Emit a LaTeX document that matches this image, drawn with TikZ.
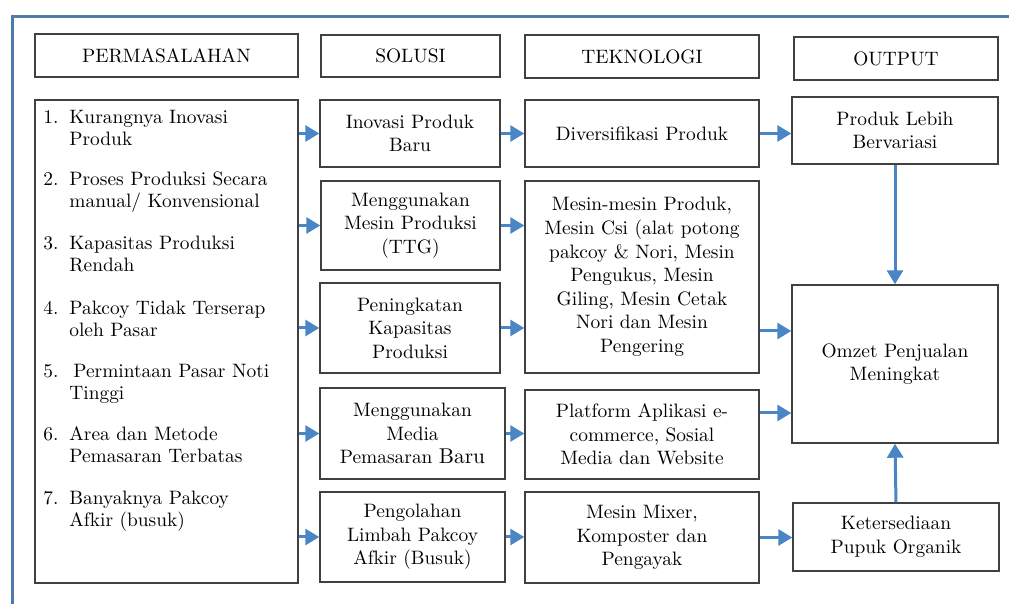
\documentclass[tikz,border=0pt]{standalone}
\usetikzlibrary{arrows.meta}
\definecolor{panah}{RGB}{74,134,197}
\definecolor{bingkai}{RGB}{79,123,168}

\begin{document}
\begin{tikzpicture}[x=0.5pt,y=-0.5pt,
  kotak/.style={draw=black!75, line width=0.7pt, align=center, inner sep=0pt,
    font=\fontsize{9.7}{11.8}\selectfont},
  butir/.style={anchor=base west, inner sep=0pt, align=left,
    font=\fontsize{9.7}{11.2}\selectfont},
  panahbiru/.style={draw=panah, line width=1.5pt,
    -{Triangle[length=7pt,width=8pt]}}]
\useasboundingbox (0,0) rectangle (1009,604);
\draw [bingkai, line width=1.5pt] (12,604) -- (12,17) -- (1009,17);

% judul kolom
\node [kotak, minimum width=131.5pt, minimum height=21.5pt] (hperm) at (166.5,55.5) {PERMASALAHAN};
\node [kotak, minimum width=89.5pt, minimum height=21pt] (hsol) at (410.5,56) {SOLUSI};
\node [kotak, minimum width=117pt, minimum height=21.5pt] (htek) at (642,56.5) {TEKNOLOGI};
\node [kotak, minimum width=102pt, minimum height=21.5pt] (hout) at (896,58.5) {OUTPUT};

% permasalahan
\node [kotak, minimum width=131.5pt, minimum height=241.5pt] (perm) at (166.5,341.5) {};
\node [butir] (p1) at (43,146) {\makebox[13pt][l]{1.}Kurangnya Inovasi\\\hspace*{13pt}Produk};
\node [butir] (p2) at (43,208) {\makebox[13pt][l]{2.}Proses Produksi Secara\\\hspace*{13pt}manual/ Konvensional};
\node [butir] (p3) at (43,272) {\makebox[13pt][l]{3.}Kapasitas Produksi\\\hspace*{13pt}Rendah};
\node [butir] (p4) at (43,337) {\makebox[13pt][l]{4.}Pakcoy Tidak Terserap\\\hspace*{13pt}oleh Pasar};
\node [butir] (p5) at (43,400) {\makebox[15pt][l]{5.}Permintaan Pasar Noti\\\hspace*{13pt}Tinggi};
\node [butir] (p6) at (43,463) {\makebox[13pt][l]{6.}Area dan Metode\\\hspace*{13pt}Pemasaran Terbatas};
\node [butir] (p7) at (43,527) {\makebox[13pt][l]{7.}Banyaknya Pakcoy\\\hspace*{13pt}Afkir (busuk)};

% solusi
\node [kotak, minimum width=90pt, minimum height=33.5pt] (s1) at (410,133.5) {Inovasi Produk\\Baru};
\node [kotak, minimum width=89.5pt, minimum height=44.5pt] (s2) at (410.5,225.5) {Menggunakan\\Mesin Produksi\\(TTG)};
\node [kotak, minimum width=90pt, minimum height=45pt] (s3) at (410,328) {Peningkatan\\Kapasitas\\Produksi};
\node [kotak, minimum width=92.5pt, minimum height=45.5pt] (s4) at (412.5,433.5) {Menggunakan\\Media\\Pemasaran {\fontsize{10.7}{11.8}\selectfont Baru}};
\node [kotak, minimum width=92.5pt, minimum height=45pt] (s5) at (412.5,537) {Pengolahan\\Limbah Pakcoy\\Afkir (Busuk)};

% teknologi
\node [kotak, minimum width=117pt, minimum height=33.5pt] (t1) at (642,133.5) {Diversifikasi Produk};
\node [kotak, minimum width=117pt, minimum height=96pt] (t2) at (642,277) {Mesin-mesin Produk,\\Mesin Csi (alat potong\\pakcoy \& Nori, Mesin\\Pengukus, Mesin\\Giling, Mesin Cetak\\Nori dan Mesin\\Pengering};
\node [kotak, minimum width=117pt, minimum height=44.5pt] (t3) at (642,434.5) {Platform Aplikasi e-\\commerce, Sosial\\Media dan Website};
\node [kotak, minimum width=117pt, minimum height=45.5pt] (t4) at (642,537.5) {Mesin Mixer,\\Komposter dan\\Pengayak};

% output
\node [kotak, minimum width=103pt, minimum height=33.5pt] (o1) at (895,130.5) {Produk Lebih\\Bervariasi};
\node [kotak, minimum width=103pt, minimum height=79pt] (o2) at (895,364) {Omzet Penjualan\\Meningkat};
\node [kotak, minimum width=103pt, minimum height=34pt] (o3) at (896,537) {Ketersediaan\\Pupuk Organik};

% panah
\draw [panahbiru] (perm.east |- s1) -- (s1.west);
\draw [panahbiru] (perm.east |- s2) -- (s2.west);
\draw [panahbiru] (perm.east |- s3) -- (s3.west);
\draw [panahbiru] (perm.east |- s4) -- (s4.west);
\draw [panahbiru] (perm.east |- s5) -- (s5.west);
\draw [panahbiru] (s1.east) -- (s1.east -| t1.west);
\draw [panahbiru] (s2.east) -- (s2.east -| t2.west);
\draw [panahbiru] (s3.east) -- (s3.east -| t2.west);
\draw [panahbiru] (s4.east) -- (s4.east -| t3.west);
\draw [panahbiru] (s5.east) -- (s5.east -| t4.west);
\draw [panahbiru] (t1.east) -- (t1.east -| o1.west);
\draw [panahbiru] ([yshift=-27pt]t2.east) -- ([yshift=-27pt]t2.east -| o2.west);
\draw [panahbiru] ([yshift=10.75pt]t3.east) -- ([yshift=10.75pt]t3.east -| o2.west);
\draw [panahbiru] (t4.east) -- (t4.east -| o3.west);
\draw [panahbiru] (o1.south) -- (o2.north);
\draw [panahbiru] (o3.north) -- (o2.south);
\end{tikzpicture}
\end{document}
